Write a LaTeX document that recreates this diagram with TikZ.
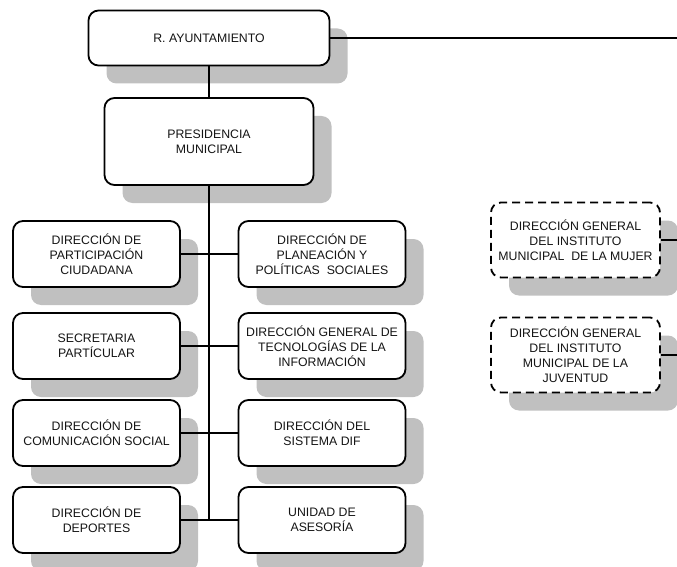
\documentclass[tikz,border=0pt]{standalone}
\usepackage{fontspec}
\setmainfont{Liberation Sans}
\usetikzlibrary{shadows}
\definecolor{shadowgray}{RGB}{192,192,192}
\definecolor{inkgray}{RGB}{20,20,20}
\tikzset{
  unit/.style={draw=black, line width=1.8pt, rounded corners=10pt, fill=white,
    align=center, inner sep=0pt, font=\fontsize{12.3}{15}\selectfont, text=inkgray,
    general shadow={shadow xshift=18pt, shadow yshift=-18pt, fill=shadowgray}},
  sidebox/.style={unit, minimum width=167pt, minimum height=66pt},
  auxbox/.style={unit, dashed, dash pattern=on 8pt off 5pt, minimum width=169pt, minimum height=75pt},
  link/.style={draw=black, line width=2pt}
}
\begin{document}
\begin{tikzpicture}[x=1pt, y=-1pt]
  \useasboundingbox (0,0) rectangle (677,567);

  % top of the hierarchy
  \node[unit, minimum width=241pt, minimum height=55pt] (ayto) at (209,38) {R. AYUNTAMIENTO};
  \node[unit, minimum width=209pt, minimum height=87pt] (pres) at (209,141.5) {PRESIDENCIA\\MUNICIPAL};

  % left column
  \node[sidebox] (part) at (96.5,254) {DIRECCIÓN DE\\PARTICIPACIÓN\\CIUDADANA};
  \node[sidebox] (secr) at (96.5,346) {SECRETARIA\\PARTÍCULAR};
  \node[sidebox] (comu) at (96.5,433) {DIRECCIÓN DE\\COMUNICACIÓN SOCIAL};
  \node[sidebox] (depo) at (96.5,520) {DIRECCIÓN DE\\DEPORTES};

  % right column
  \node[sidebox] (plan) at (322,254) {DIRECCIÓN DE\\PLANEACIÓN Y\\POLÍTICAS\ \ SOCIALES};
  \node[sidebox] (tecn) at (322,346) {DIRECCIÓN GENERAL DE\\TECNOLOGÍAS DE LA\\INFORMACIÓN};
  \node[sidebox] (dif)  at (322,433) {DIRECCIÓN DEL\\SISTEMA DIF};
  \node[sidebox] (ases) at (322,520) {UNIDAD DE\\ASESORÍA};

  % institutes
  \node[auxbox] (mujer) at (575.5,240) {DIRECCIÓN GENERAL\\DEL INSTITUTO\\MUNICIPAL\ \ DE LA MUJER};
  \node[auxbox] (juv)   at (575.5,355) {DIRECCIÓN GENERAL\\DEL INSTITUTO\\MUNICIPAL DE LA\\JUVENTUD};

  % connectors
  \coordinate (trunkend) at (209,520);
  \coordinate (aytoout) at (677,38);
  \coordinate (mujerout) at (677,240);
  \coordinate (juvout) at (677,355);

  \draw[link] (ayto.south) -- (pres.north);
  \draw[link] (pres.south) -- (trunkend);
  \draw[link] (ayto.east) -- (aytoout);
  \draw[link] (part.east) -- (plan.west);
  \draw[link] (secr.east) -- (tecn.west);
  \draw[link] (comu.east) -- (dif.west);
  \draw[link] (depo.east) -- (ases.west);
  \draw[link] (mujer.east) -- (mujerout);
  \draw[link] (juv.east) -- (juvout);
\end{tikzpicture}
\end{document}
